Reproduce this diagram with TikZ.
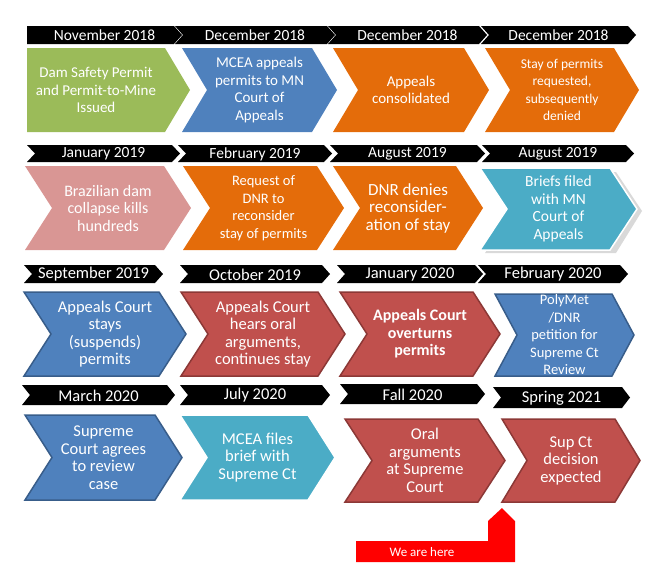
\documentclass[tikz,border=0pt]{standalone}
\usepackage{fontspec}
\setmainfont{Carlito}
\begin{document}
\definecolor{cgreen}{HTML}{9BBB59}
\definecolor{cblue}{HTML}{4F81BD}
\definecolor{corange}{HTML}{E46C0A}
\definecolor{cpink}{HTML}{D99694}
\definecolor{cteal}{HTML}{4BACC6}
\definecolor{cred}{HTML}{C0504D}
\definecolor{dred}{HTML}{8C3836}
\definecolor{dblue}{HTML}{385D8A}
\newcommand\fs[2]{\fontsize{#1}{#2}\selectfont}
% #1 name #2 x0 #3 x1 #4 y0 #5 y1 #6 depth #7 style #8 text #9 notch(1/0)
\newcommand\chv[9]{%
  \ifnum#9=1
    \path[#7] (#2,#4) -- ({#3-#6},#4) -- (#3,{(#4+#5)/2}) -- ({#3-#6},#5) -- (#2,#5) -- ({#2+#6},{(#4+#5)/2}) -- cycle;
  \else
    \path[#7] (#2,#4) -- ({#3-#6},#4) -- (#3,{(#4+#5)/2}) -- ({#3-#6},#5) -- (#2,#5) -- cycle;
  \fi
  \node[txt] (#1) at ({(#2+#3)/2-(1-#9)*#6/2},{(#4+#5)/2}) {#8};}
\begin{tikzpicture}[x=1pt,y=-1pt,
  txt/.style={text=white,align=center,font=\fs{15}{17.5},inner sep=0pt},
  ban/.style={fill=black},
  bt/.style={text=white,font=\fs{15.5}{17},inner sep=0pt}]
\useasboundingbox (0,0) rectangle (652,579);
\newcommand\bn[7]{\path[ban] (#2,#4) -- ({#3-8},#4) -- (#3,{(#4+#5)/2}) -- ({#3-8},#5) -- (#2,#5) \ifnum#7=1 -- ({#2+8},{(#4+#5)/2})\fi -- cycle;
  \node[bt] (#1) at ({(#2+#3)/2},{(#4+#5)/2+0.5}) {#6};}
% Row 1
\bn{b11}{27}{182}{26}{44}{November 2018}{0}
\bn{b12}{175}{335}{26}{44}{December 2018}{1}
\bn{b13}{328}{487}{26}{44}{December 2018}{1}
\bn{b14}{481}{636}{26}{44}{December 2018}{1}
\chv{c11}{27}{190}{48}{132}{25}{fill=cgreen}{Dam Safety Permit\\and Permit-to-Mine\\Issued}{0}
\chv{c12}{182}{337}{48}{132}{25}{fill=cblue}{MCEA appeals\\permits to MN\\Court of\\Appeals}{1}
\chv{c13}{333}{489}{48}{132}{25}{fill=corange}{Appeals\\consolidated}{1}
\chv{c14}{485}{639}{48}{132}{25}{fill=corange}{\fs{13.5}{16}Stay of permits\\\fs{13.5}{16}requested,\\\fs{13.5}{16}subsequently\\\fs{13.5}{16}denied}{1}
% Row 2
\bn{b21}{27}{180}{145}{162}{January 2019}{1}
\bn{b22}{178}{332}{145}{162}{February 2019}{1}
\bn{b23}{330}{485}{145}{162}{August 2019}{1}
\bn{b24}{482}{634}{145}{162}{August 2019}{1}
\chv{c21}{25}{191}{166}{250}{27}{fill=cpink}{\fs{16}{19}Brazilian dam\\\fs{16}{19}collapse kills\\\fs{16}{19}hundreds}{1}
\chv{c22}{183}{344}{166}{250}{27}{fill=corange}{\fs{14.5}{17}Request of\\\fs{14.5}{17}DNR to\\\fs{14.5}{17}reconsider\\\fs{14.5}{17}stay of permits}{1}
\chv{c23}{333}{483}{166}{250}{27}{fill=corange}{\fs{17}{21}DNR denies\\\fs{17}{21}reconsider-\\\fs{17}{21}ation of stay}{1}
\path[fill=black!15] (485,172) -- (616,172) -- (642,211) -- (616,253) -- (485,253) -- (513,211) -- cycle;
\chv{c24}{480}{637}{168}{250}{27}{fill=cteal,draw=white,line width=1.5pt}{\fs{15.5}{19}Briefs filed\\\fs{15.5}{19}with MN\\\fs{15.5}{19}Court of\\\fs{15.5}{19}Appeals}{1}
% Row 3
\bn{b31}{24}{163}{265}{283}{\fs{16.5}{18}September 2019}{1}
\bn{b32}{180}{330}{265}{283}{\fs{16.5}{18}October 2019}{1}
\bn{b33}{337}{483}{265}{283}{\fs{16.5}{18}January 2020}{1}
\bn{b34}{478}{628}{265}{283}{\fs{16.5}{18}February 2020}{1}
\chv{c31}{24}{186}{292}{376}{27}{fill=cblue,draw=dblue,line width=1.5pt}{\fs{16.5}{20.5}Appeals Court\\\fs{16.5}{20.5}stays\\\fs{16.5}{20.5}(suspends)\\\fs{16.5}{20.5}permits}{1}
\chv{c32}{181}{345}{292}{376}{27}{fill=cred,draw=dred,line width=1.5pt}{\fs{16.5}{20.5}Appeals Court\\\fs{16.5}{20.5}hears oral\\\fs{16.5}{20.5}arguments,\\\fs{16.5}{20.5}continues stay}{1}
\chv{c33}{340}{500}{292}{376}{27}{fill=cred,draw=dred,line width=1.5pt}{\bfseries\fs{16}{21.5}Appeals Court\\\bfseries\fs{16}{21.5}overturns\\\bfseries\fs{16}{21.5}permits}{1}
\chv{c34}{495}{634}{294}{376}{22}{fill=cblue,draw=dblue,line width=1.5pt}{\fs{14.5}{16}PolyMet\\\fs{14.5}{16}/DNR\\\fs{14.5}{16}petition for\\\fs{14.5}{16}Supreme Ct\\\fs{14.5}{16}Review}{1}
% Row 4
\bn{b41}{22}{175}{385}{405}{\fs{16.5}{18}March 2020}{1}
\bn{b42}{180}{330}{385}{405}{\fs{16.5}{18}July 2020}{1}
\bn{b43}{340}{485}{384}{404}{\fs{16.5}{18}Fall 2020}{1}
\bn{b44}{493}{630}{387}{408}{\fs{16.5}{18}Spring 2021}{1}
\chv{c41}{25}{182}{415}{500}{27}{fill=cblue,draw=dblue,line width=1.5pt}{\fs{16.5}{19}Supreme\\\fs{16.5}{19}Court agrees\\\fs{16.5}{19}to review\\\fs{16.5}{19}case}{1}
\chv{c42}{180}{335}{415}{500}{27}{fill=cteal,draw=white,line width=1.5pt}{\fs{16.5}{20}MCEA files\\\fs{16.5}{20}brief with\\\fs{16.5}{20}Supreme Ct}{1}
\chv{c43}{345}{505}{419}{502}{27}{fill=cred,draw=dred,line width=1.5pt}{\fs{16.5}{20.5}Oral\\\fs{16.5}{20.5}arguments\\\fs{16.5}{20.5}at Supreme\\\fs{16.5}{20.5}Court}{1}
\chv{c44}{502}{640}{419}{502}{25}{fill=cred,draw=dred,line width=1.5pt}{\fs{16.5}{20.5}Sup Ct\\\fs{16.5}{20.5}decision\\\fs{16.5}{20.5}expected}{1}
% We are here
\path[fill=red] (502,508) -- (515,521) -- (515,562) -- (356,562) -- (356,541) -- (488,541) -- (488,521) -- cycle;
\node[bt,font=\fs{13}{15}] (here) at (422,552) {We are here};
\end{tikzpicture}
\end{document}
